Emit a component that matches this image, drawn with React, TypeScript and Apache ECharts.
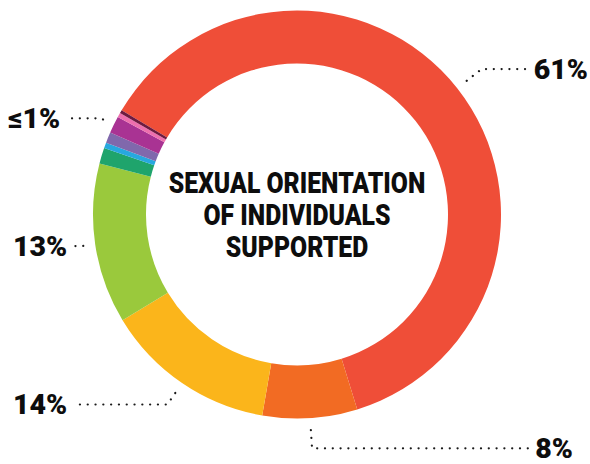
import React, { useEffect, useRef } from 'react';
import * as echarts from 'echarts';

// ---- data ----
const sliceLabels = ['61%', '8%', '14%', '13%', '', '', '', '≤1%', '', ''];
const sliceValues = [61.7, 7.5, 13.6, 12.7, 1.25, 0.45, 0.85, 1.35, 0.35, 0.25];
const sliceColors = ['#EF4E38', '#F26B23', '#FBB51B', '#9AC93C', '#1FA46C', '#27A8DF', '#8068AC', '#A93393', '#EE6FAE', '#6E1A40'];
const titleLines = ['SEXUAL ORIENTATION', 'OF INDIVIDUALS', 'SUPPORTED'];

// per-slice leader settings (layout only)
const leaderLength = [19, 18.3, 14, 1, 0, 0, 0, 2.5, 0, 0];
const leaderEdge = [2, 17, 13, 13, 0, 0, 0, 8, 0, 0];

const CENTER = [297, 214.5];
const START = 149.3;

export default function App() {
  const ref = useRef<HTMLDivElement>(null);
  useEffect(() => {
    if (!ref.current) return;
    const chart = echarts.init(ref.current, null, { renderer: 'svg' });
    chart.setOption({
      animation: false,
      backgroundColor: '#ffffff',
      series: [
        {
          type: 'pie',
          radius: [151, 204],
          center: CENTER,
          startAngle: START,
          clockwise: true,
          silent: true,
          avoidLabelOverlap: false,
          label: { show: false },
          labelLine: { show: false },
          data: sliceValues.map((v, i) => ({
            value: v,
            name: 'slice' + i,
            itemStyle: { color: sliceColors[i] },
          })),
        },
        {
          type: 'pie',
          radius: [215, 216],
          center: CENTER,
          startAngle: START,
          clockwise: true,
          silent: true,
          left: 0,
          top: 0,
          right: 0,
          bottom: -60,
          itemStyle: { color: 'rgba(0,0,0,0)' },
          label: {
            show: true,
            position: 'outside',
            alignTo: 'edge',
            labelDistance: 13,
            fontFamily: 'Roboto',
            fontWeight: 900,
            fontSize: 28.5,
            lineHeight: 22,
            color: '#0d0d0d',
            formatter: (p: any) => sliceLabels[p.dataIndex],
          },
          labelLine: {
            show: true,
            length2: 0,
            lineStyle: { color: '#1a1a1a', width: 2.2, type: [0.1, 7.7], cap: 'round' },
          },
          data: sliceValues.map((v, i) =>
            sliceLabels[i]
              ? {
                  value: v,
                  name: 'label' + i,
                  label: { edgeDistance: leaderEdge[i] },
                  labelLine: { length: leaderLength[i] },
                }
              : { value: v, name: 'label' + i, label: { show: false }, labelLine: { show: false } }
          ),
        },
      ],
      graphic: [
        {
          type: 'text',
          x: CENTER[0],
          y: 215,
          scaleX: 0.84,
          silent: true,
          style: {
            text: titleLines.join('\n'),
            fontFamily: 'Roboto',
            fontWeight: 900,
            fontSize: 29.5,
            lineHeight: 32,
            fill: '#0d0d0d',
            textAlign: 'center',
            textVerticalAlign: 'middle',
            align: 'center',
            verticalAlign: 'middle',
          },
        },
      ],
    });
    return () => chart.dispose();
  }, []);
  return (
    <div
      ref={ref}
      style={{ position: 'fixed', left: 0, top: 0, width: 590, height: 464, background: '#fff' }}
    />
  );
}
